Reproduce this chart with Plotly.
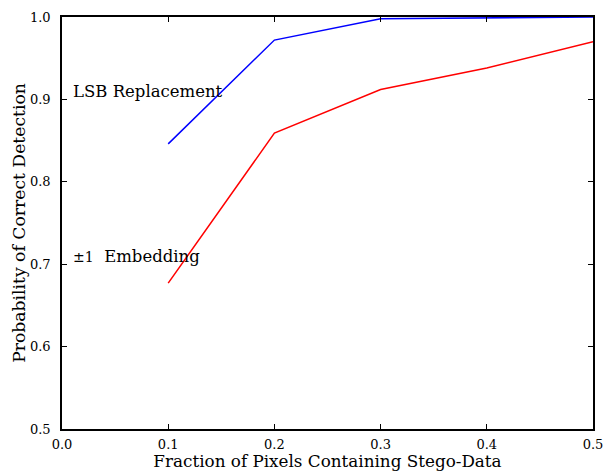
import plotly.graph_objects as go

fraction = [0.1, 0.2, 0.3, 0.4, 0.5]
lsb_replacement = [0.846, 0.972, 0.998, 0.999, 1.0]
pm1_embedding = [0.677, 0.859, 0.912, 0.938, 0.970]
x_ticks = [0.0, 0.1, 0.2, 0.3, 0.4, 0.5]
y_ticks = [0.5, 0.6, 0.7, 0.8, 0.9, 1.0]

font_family = "DejaVu Serif"

fig = go.Figure()
fig.add_trace(go.Scatter(x=fraction, y=lsb_replacement, mode="lines",
                         line=dict(color="#0000ff", width=1.5), name="LSB Replacement"))
fig.add_trace(go.Scatter(x=fraction, y=pm1_embedding, mode="lines",
                         line=dict(color="#ff0000", width=1.5), name="±1 Embedding"))

fig.add_annotation(x=0.008, y=0.909, xref="x", yref="y", text="LSB Replacement",
                   showarrow=False, xanchor="left", yanchor="middle",
                   font=dict(family=font_family, size=16.5, color="black"))
fig.add_annotation(x=0.008, y=0.709, xref="x", yref="y",
                   text="<span style='font-size:14px'>±1</span>  Embedding",
                   showarrow=False, xanchor="left", yanchor="middle",
                   font=dict(family=font_family, size=16.5, color="black"))

axis_common = dict(showline=True, linecolor="black", linewidth=1.5, mirror="ticks",
                   ticks="inside", ticklen=5, tickwidth=1, tickcolor="black",
                   showgrid=False, zeroline=False, automargin=False,
                   tickfont=dict(family=font_family, size=13, color="black"))

fig.update_xaxes(range=[0.0, 0.5], tickvals=x_ticks,
                 ticktext=[f"{v:.1f}" for v in x_ticks],
                 ticklabelstandoff=3,
                 title=dict(text="Fraction of Pixels Containing Stego-Data",
                            font=dict(family=font_family, size=16.8, color="black"),
                            standoff=7),
                 **axis_common)
fig.update_yaxes(range=[0.5, 1.0], tickvals=y_ticks,
                 ticktext=[f"{v:.1f}" for v in y_ticks],
                 ticklabelstandoff=7,
                 title=dict(text="Probability of Correct Detection",
                            font=dict(family=font_family, size=17.2, color="black"),
                            standoff=0),
                 **axis_common)

fig.update_layout(width=606, height=471, showlegend=False,
                  margin=dict(l=62, r=13, t=17, b=42),
                  plot_bgcolor="white", paper_bgcolor="white",
                  font=dict(family=font_family, color="black"))

fig.write_html("out.html", config={"displayModeBar": False},
               post_script="document.body.style.margin='0';document.body.style.overflow='hidden';")
